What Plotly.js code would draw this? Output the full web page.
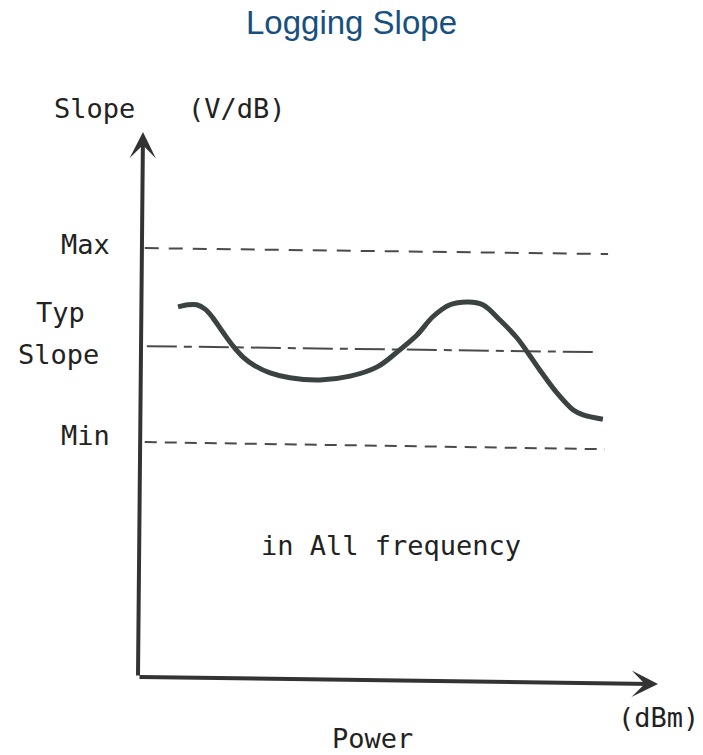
<!DOCTYPE html>
<html>
<head>
<meta charset="utf-8">
<script src="https://cdn.plot.ly/plotly-3.0.1.min.js"></script>
<style>html,body{margin:0;padding:0;background:#fff;}#chart{width:703px;height:755px;}</style>
</head>
<body>
<div id="chart"></div>
<script>
// Qualitative curve: logging slope vs input power (arbitrary units 0-100)
var powerX = [7.7, 9.6, 11.3, 12.9, 14.4, 16.3, 18.3, 20.2, 22.5, 25.4, 29.2, 35.0, 40.8, 46.0, 49.8, 53.7, 56.7, 60.0, 63.5, 66.3, 69.6, 72.9, 75.4, 77.3, 80.6, 83.7, 85.6, 89.4];
var slopeY = [67.9, 68.3, 68.3, 67.5, 65.9, 63.3, 60.7, 58.7, 57.1, 55.8, 54.9, 54.5, 55.2, 56.9, 59.6, 62.8, 66.1, 68.3, 68.8, 68.3, 65.5, 62.2, 58.9, 56.3, 52.1, 49.0, 48.1, 47.3];

// Limit lines (start/end of each, slightly skewed as in the scan)
var limitX = [1.3, 90.4];
var maxY = [78.7, 77.6];
var typX = [1.7, 88.8];
var typY = [60.7, 59.6];
var minX = [1.3, 89.8];
var minY = [43.1, 41.8];

var labelFont = {family: 'DejaVu Sans Mono, monospace', size: 27, color: '#222222'};
var lineColor = '#4a4a4a';

var traces = [
  {x: limitX, y: maxY, mode: 'lines', line: {color: lineColor, width: 2, dash: '14px,10px'}, hoverinfo: 'skip'},
  {x: typX, y: typY, mode: 'lines', line: {color: lineColor, width: 2, dash: '30px,7px,8px,7px'}, hoverinfo: 'skip'},
  {x: minX, y: minY, mode: 'lines', line: {color: lineColor, width: 2, dash: '12px,8px'}, hoverinfo: 'skip'},
  {x: powerX, y: slopeY, mode: 'lines', line: {color: '#3b4242', width: 5, shape: 'spline', smoothing: 1}, hoverinfo: 'skip'}
];

// labels placed in paper fractions of the plotting area (0..1 == axis range 0..100)
function lbl(text, x, y, xanchor) {
  return {text: text, x: x / 100, y: y / 100, xref: 'paper', yref: 'paper', showarrow: false, font: labelFont, xanchor: xanchor || 'center', yanchor: 'middle'};
}

var annotations = [
  // axes with arrowheads
  {x: 100, y: -1.3, ax: 0, ay: 0, xref: 'x', yref: 'y', axref: 'x', ayref: 'y', text: '', showarrow: true, arrowhead: 3, arrowsize: 1.1, arrowwidth: 4, arrowcolor: '#333', standoff: 0, startstandoff: 0},
  {x: 0.96, y: 100, ax: 0, ay: 0, xref: 'x', yref: 'y', axref: 'x', ayref: 'y', text: '', showarrow: true, arrowhead: 3, arrowsize: 1.1, arrowwidth: 4, arrowcolor: '#333', standoff: 0, startstandoff: 0},
  lbl('Slope', -8.3, 104.4),
  lbl('(V/dB)', 19.0, 104.4),
  lbl('Max', -5.0, 79.3, 'right'),
  lbl('Typ', -15.0, 66.8),
  lbl('Slope', -15.2, 59.1),
  lbl('Min', -5.0, 44.4, 'right'),
  lbl('in All frequency', 48.7, 24.2),
  lbl('Power', 45.0, -11.2),
  lbl('(dBm)', 100, -7.5)
];

var hiddenAxis = {range: [0, 100], showgrid: false, zeroline: false, showticklabels: false, showline: false, ticks: '', fixedrange: true};

var layout = {
  width: 703,
  height: 755,
  margin: {l: 138, r: 45, t: 132, b: 78},
  paper_bgcolor: '#ffffff',
  plot_bgcolor: '#ffffff',
  showlegend: false,
  title: {text: 'Logging Slope', x: 0.5, xanchor: 'center', y: 0.970, yref: 'container', yanchor: 'middle',
          font: {family: 'Liberation Sans, Arial, sans-serif', size: 33, color: '#17507f'}},
  xaxis: Object.assign({}, hiddenAxis),
  yaxis: Object.assign({}, hiddenAxis),
  annotations: annotations
};

Plotly.newPlot('chart', traces, layout, {displayModeBar: false, staticPlot: true});
</script>
</body>
</html>
